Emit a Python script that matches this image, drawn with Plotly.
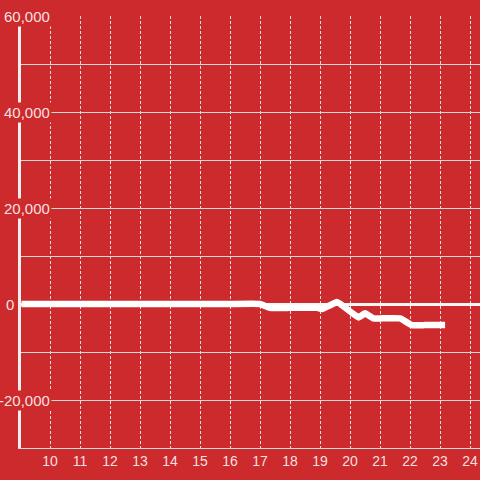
import plotly.graph_objects as go

# data
hours = [9.05, 10, 11, 12, 13, 14, 15, 16, 17.0, 17.33, 18.0, 18.9, 19.07, 19.57,
         20.28, 20.5, 20.78, 21.0, 21.67, 22.06, 22.5, 23.17]
values = [0, 0, 0, 0, 0, 0, 0, 0, 0, -800, -800, -800, -1050, 400,
          -2800, -1950, -3000, -3000, -3000, -4400, -4400, -4400]

x_ticks = list(range(10, 25))
y_grid = list(range(-30000, 60001, 10000))
y_label_vals = [60000, 40000, 20000, 0, -20000]
y_label_text = ["60,000", "40,000", "20,000", "0", "-20,000"]

BG = "#cd2a2e"
TXT = "rgba(255,255,255,0.87)"

fig = go.Figure()
fig.add_trace(go.Scatter(
    x=hours, y=values, mode="lines",
    line=dict(color="white", width=6.5, shape="spline", smoothing=0.3),
    hoverinfo="skip", showlegend=False,
))

for v, t in zip(y_label_vals, y_label_text):
    xr = (-5 / 459) if t == "0" else (31 / 459)
    fig.add_annotation(
        x=xr, xref="paper", xanchor="right",
        y=v, yref="y", yanchor="middle",
        text=t, showarrow=False, bgcolor=BG, borderpad=1,
        font=dict(family="Liberation Sans, Arial, sans-serif", size=15, color=TXT),
    )

fig.update_layout(
    width=480, height=480,
    margin=dict(l=21, r=0, t=16, b=32),
    paper_bgcolor=BG, plot_bgcolor=BG,
    showlegend=False,
    font=dict(family="Liberation Sans, Arial, sans-serif", size=14, color=TXT),
    xaxis=dict(
        range=[9.0333, 24.3333],
        tickvals=x_ticks, ticktext=[str(v) for v in x_ticks],
        showgrid=True, gridcolor="#e2e2e2", griddash="3px,2px", gridwidth=1,
        showline=True, linecolor="#d9d9d9", linewidth=1,
        zeroline=False, ticks="", tickfont=dict(size=14, color=TXT),
        fixedrange=True,
    ),
    yaxis=dict(
        range=[-30000, 60000],
        tickvals=y_grid, showticklabels=False,
        showgrid=True, gridcolor="#d9d9d9", gridwidth=1,
        showline=True, linecolor="#f0f0f0", linewidth=3,
        zeroline=True, zerolinecolor="#f5f5f5", zerolinewidth=3,
        ticks="", fixedrange=True,
    ),
)

fig.write_html("out.html", config={"displayModeBar": False},
               post_script="document.body.style.margin='0';")
